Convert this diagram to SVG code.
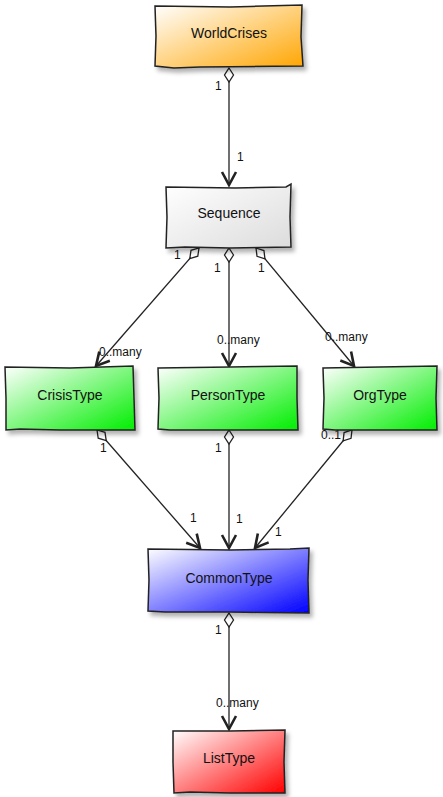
<svg xmlns="http://www.w3.org/2000/svg" width="443" height="797" viewBox="0 0 443 797">
<defs>
<linearGradient id="gOrange" x1="0" y1="0" x2="1" y2="1"><stop offset="0" stop-color="#ffffff"/><stop offset="1" stop-color="#ffa500"/></linearGradient>
<linearGradient id="gGray" x1="0" y1="0" x2="1" y2="1"><stop offset="0" stop-color="#ffffff"/><stop offset="1" stop-color="#dcdcdc"/></linearGradient>
<linearGradient id="gGreen" x1="0" y1="0" x2="1" y2="1"><stop offset="0" stop-color="#ffffff"/><stop offset="1" stop-color="#00ee00"/></linearGradient>
<linearGradient id="gBlue" x1="0" y1="0" x2="1" y2="1"><stop offset="0" stop-color="#ffffff"/><stop offset="1" stop-color="#0000ff"/></linearGradient>
<linearGradient id="gRed" x1="0" y1="0" x2="1" y2="1"><stop offset="0" stop-color="#ffffff"/><stop offset="1" stop-color="#ff0000"/></linearGradient>
<filter id="sh" x="-10%" y="-10%" width="130%" height="140%"><feDropShadow dx="3" dy="4" stdDeviation="2" flood-color="#000" flood-opacity="0.3"/></filter>
<marker id="dia" markerUnits="userSpaceOnUse" markerWidth="20" markerHeight="14" viewBox="-1 -7 17 14" refX="0" refY="0" orient="auto"><path d="M0,0 L7,-4.5 L14,0 L7,4.5 Z" fill="#fff" stroke="#222" stroke-width="1.3"/></marker>
<marker id="arr" markerUnits="userSpaceOnUse" markerWidth="20" markerHeight="20" viewBox="-16 -10 18 20" refX="0" refY="0" orient="auto"><path d="M-13,-7 L0,0 L-13,7" fill="none" stroke="#222" stroke-width="2.6" stroke-linejoin="miter"/></marker>
</defs>
<style>
.box{stroke:#222;stroke-width:1.5;filter:url(#sh)}
.name{font-family:"Liberation Sans",Arial,sans-serif;font-size:14px;fill:#111;text-anchor:middle}
.lbl{font-family:"Liberation Sans",Arial,sans-serif;font-size:12px;fill:#111}
.edge{stroke:#222;stroke-width:1.3;fill:none;marker-start:url(#dia);marker-end:url(#arr)}
</style>
<g id="connectors">
<line class="edge" x1="229" y1="68" x2="229" y2="185"/>
<line class="edge" x1="199" y1="248" x2="96" y2="366"/>
<line class="edge" x1="229" y1="248" x2="229" y2="366"/>
<line class="edge" x1="256" y1="248" x2="354" y2="366"/>
<line class="edge" x1="97" y1="430" x2="200" y2="548"/>
<line class="edge" x1="229" y1="430" x2="229" y2="548"/>
<line class="edge" x1="352" y1="430" x2="255" y2="548"/>
<line class="edge" x1="229" y1="613" x2="229" y2="729"/>
<text class="lbl" x="215" y="90">1</text>
<text class="lbl" x="237" y="161">1</text>
<text class="lbl" x="174" y="259">1</text>
<text class="lbl" x="99" y="356">0..many</text>
<text class="lbl" x="214" y="272">1</text>
<text class="lbl" x="217" y="344">0..many</text>
<text class="lbl" x="258" y="272">1</text>
<text class="lbl" x="325" y="341">0..many</text>
<text class="lbl" x="100" y="452">1</text>
<text class="lbl" x="190" y="522">1</text>
<text class="lbl" x="215" y="452">1</text>
<text class="lbl" x="236" y="523">1</text>
<text class="lbl" x="321" y="439">0..1</text>
<text class="lbl" x="275" y="536">1</text>
<text class="lbl" x="215" y="634">1</text>
<text class="lbl" x="216" y="707">0..many</text>
</g>
<g id="WorldCrises">
<path class="box" fill="url(#gOrange)" d="M155,6 L230,7 L302,5 L301,37 L303,66 L200,67 L174,68 L155,66 L156,36 Z"/>
<text class="name" x="229" y="38">WorldCrises</text>
</g>
<g id="Sequence">
<path class="box" fill="url(#gGray)" d="M166,187 L235,188 L286,187 L291,184 L290,217 L291,247 L230,248 L185,247 L166,248 L167,217 Z"/>
<text class="name" x="229" y="218">Sequence</text>
</g>
<g id="CrisisType">
<path class="box" fill="url(#gGreen)" d="M5,367 L70,368 L133,366 L134,398 L135,430 L60,430 L20,429 L6,430 L6,398 Z"/>
<text class="name" x="70" y="400">CrisisType</text>
</g>
<g id="PersonType">
<path class="box" fill="url(#gGreen)" d="M158,368 L230,367 L297,366 L297,398 L298,430 L230,430 L170,430 L158,429 L159,398 Z"/>
<text class="name" x="228" y="400">PersonType</text>
</g>
<g id="OrgType">
<path class="box" fill="url(#gGreen)" d="M323,368 L380,367 L437,366 L436,398 L437,430 L380,430 L335,430 L323,429 L324,398 Z"/>
<text class="name" x="380" y="400">OrgType</text>
</g>
<g id="CommonType">
<path class="box" fill="url(#gBlue)" d="M148,549 L230,550 L290,549 L309,548 L308,580 L309,613 L230,612 L165,612 L148,611 L149,580 Z"/>
<text class="name" x="229" y="583">CommonType</text>
</g>
<g id="ListType">
<path class="box" fill="url(#gRed)" d="M173,731 L230,731 L285,730 L284,762 L285,793 L230,793 L190,792 L174,793 L173,762 Z"/>
<text class="name" x="229" y="763">ListType</text>
</g>
</svg>
